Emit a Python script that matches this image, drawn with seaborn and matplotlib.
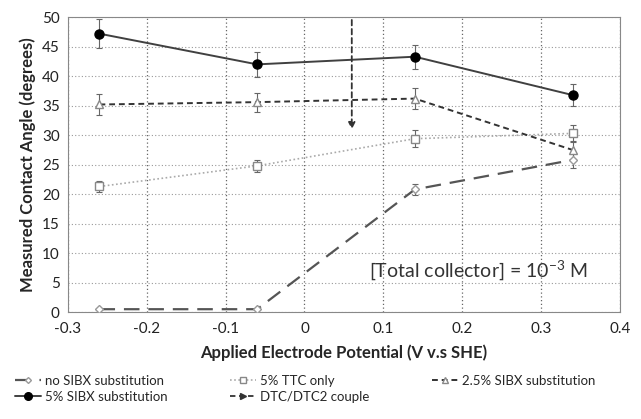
import pandas as pd
import matplotlib.pyplot as plt
import seaborn as sns
from matplotlib.lines import Line2D

# Data
potential = [-0.26, -0.06, 0.14, 0.34]
no_sibx = [0.5, 0.5, 20.8, 25.8]
no_sibx_err = [0.0, 0.0, 1.0, 1.3]
ttc_only = [21.3, 24.8, 29.4, 30.3]
ttc_only_err = [0.9, 1.0, 1.4, 1.5]
sibx_25 = [35.2, 35.6, 36.2, 27.5]
sibx_25_err = [1.8, 1.6, 1.8, 1.5]
sibx_5 = [47.2, 42.0, 43.3, 36.8]
sibx_5_err = [2.5, 2.1, 2.0, 1.8]
couple_x = 0.06
couple_y = [50, 30.5]

sns.set_style('white')
plt.rcParams['font.family'] = ['Lato', 'DejaVu Sans']

fig = plt.figure(figsize=(6.41, 4.19), dpi=100)
ax = fig.add_axes([0.106, 0.255, 0.861, 0.704])

series = [
    ('no SIBX substitution', no_sibx, no_sibx_err, 'D', '#555555', (0, (7, 4)), 1.6, 'white', '#999999', 4),
    ('5% TTC only', ttc_only, ttc_only_err, 's', '#aaaaaa', (0, (1, 1.5)), 1.2, 'white', '#888888', 6),
    ('2.5% SIBX substitution', sibx_25, sibx_25_err, '^', '#333333', (0, (3, 2)), 1.4, 'white', '#888888', 6),
    ('5% SIBX substitution', sibx_5, sibx_5_err, 'o', '#404040', '-', 1.4, 'black', 'black', 6.5),
]

handles = {}
for name, vals, err, mk, col, ls, lw, mfc, mec, ms in series:
    df = pd.DataFrame({'x': potential, 'y': vals})
    sns.lineplot(data=df, x='x', y='y', ax=ax, color=col, linestyle=ls, linewidth=lw,
                 marker=mk, markerfacecolor=mfc, markeredgecolor=mec, markersize=ms,
                 markeredgewidth=1, zorder=3)
    ax.errorbar(potential, vals, yerr=err, fmt='none', ecolor='#666666',
                elinewidth=0.8, capsize=2.5, capthick=0.8, zorder=2)
    handles[name] = Line2D([], [], color=col, linestyle=ls, linewidth=lw, marker=mk,
                           markerfacecolor=mfc, markeredgecolor=mec, markersize=ms - 1)

# DTC/DTC2 couple arrow
ax.annotate('', xy=(couple_x, couple_y[1]), xytext=(couple_x, couple_y[0]),
            arrowprops=dict(arrowstyle='-|>', color='#333333', linestyle=(0, (3, 2)),
                            linewidth=1.3, mutation_scale=10))
handles['DTC/DTC2 couple'] = Line2D([], [], color='#333333', linestyle=(0, (3, 2)),
                                    linewidth=1.3, marker='>', markersize=5,
                                    markevery=[1])

ax.text(0.082, 7, r'[Total collector] = 10$^{\mathregular{-3}}$ M', fontsize=14, color='#333333',
        va='center', ha='left')

ax.set_xlim(-0.3, 0.4)
ax.set_ylim(0, 50)
ax.set_xticks([-0.3, -0.2, -0.1, 0, 0.1, 0.2, 0.3, 0.4])
ax.set_xticklabels(['-0.3', '-0.2', '-0.1', '0', '0.1', '0.2', '0.3', '0.4'])
ax.set_yticks(range(0, 51, 5))
ax.tick_params(labelsize=11, colors='#222222', length=3, direction='in')
ax.tick_params(axis='x', pad=7)
ax.tick_params(axis='y', pad=6)
ax.set_axisbelow(True)
ax.xaxis.grid(True, linestyle=(0, (1, 2)), color='#666666', linewidth=0.9)
ax.yaxis.grid(True, linestyle=(0, (1, 2)), color='#999999', linewidth=0.8)
for s in ax.spines.values():
    s.set_color('#888888')

ax.set_xlabel('Applied Electrode Potential (V v.s SHE)', fontsize=12, fontweight='bold', labelpad=6)
ax.set_ylabel('Measured Contact Angle (degrees)', fontsize=12, fontweight='bold')

order = ['no SIBX substitution', '5% SIBX substitution', '5% TTC only',
         'DTC/DTC2 couple', '2.5% SIBX substitution']
fig.legend([handles[k] for k in order], order, ncol=3, loc='lower left',
           bbox_to_anchor=(0.005, 0.01), frameon=False, fontsize=9.5,
           handlelength=2.0, handletextpad=0.3, columnspacing=4.7, labelspacing=0.3)

plt.savefig('out.png', dpi=100)
